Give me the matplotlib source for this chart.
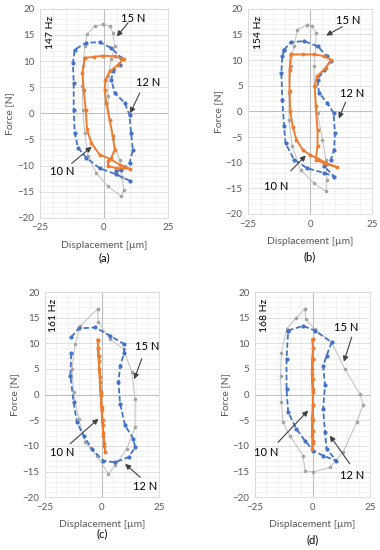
import matplotlib
matplotlib.use("Agg")
import matplotlib.pyplot as plt
from matplotlib.ticker import MultipleLocator

plt.rcParams['font.family'] = ['Lato', 'DejaVu Sans']

# ---- panel (a) 147 Hz ----
a10_x = [-7.5, -4.0, -0.4, 4.2, 7.7, 5.5, 2.2, 0.6, 0.3, 0.9, 2.2, 3.5, 4.2, 2.9, 1.6, 1.6, 4.8, 10.0,
         6.1, 2.2, -1.7, -4.9, -6.6, -7.1, -7.9, -8.4, -7.5]
a10_y = [10.6, 10.8, 11.0, 10.9, 10.4, 9.3, 8.0, 6.4, 4.5, 2.0, -1.2, -4.4, -7.0, -8.5, -9.2, -10.1, -10.5, -10.6,
         -9.8, -8.7, -7.9, -5.7, -3.1, 0.7, 4.5, 7.7, 10.6]
a12_x = [10.0, 4.8, -1.7, -6.9, -10.1, -11.4, -11.8, -11.8, -12.1, -11.4, -6.9, -1.7, 2.9, 6.8, 6.1, 3.5, 2.9,
         4.2, 8.1, 10.0, 10.6, 11.3, 10.0, 6.8, 4.8]
a12_y = [-12.9, -11.7, -10.5, -8.5, -6.6, -3.8, 0.7, 5.8, 9.6, 12.2, 13.5, 13.6, 12.5, 10.6, 9.3, 8.0, 6.4,
         3.9, 2.0, -0.3, -3.8, -7.0, -9.5, -10.8, -11.1]
a15_x = [-0.4, -3.6, -6.6, -7.5, -8.2, -8.4, -8.2, -7.5, -6.2, -3.0, 1.6, 6.8, 7.7, 7.1, 6.1, 3.5, 2.2, 1.6,
         1.6, 2.9, 4.2, 3.5, 2.2, -0.4]
a15_y = [17.0, 16.7, 15.1, 12.8, 9.0, 5.2, 0.7, -3.8, -8.2, -11.4, -14.0, -15.9, -14.6, -12.1, -8.9, -5.0, -1.2, 3.3,
         7.1, 10.3, 12.8, 15.4, 16.7, 17.0]

# ---- panel (b) 154 Hz ----
b10_x = [-7.8, -3.0, 1.6, 5.5, 8.4, 6.4, 2.7, 1.9, 2.3, 3.0, 3.0, 2.3, 5.7, 11.0, 7.0, 3.0, 0.0, -3.0, -5.5,
         -7.0, -8.0, -8.3, -8.3, -7.8]
b10_y = [11.1, 11.1, 11.1, 10.8, 10.1, 8.5, 6.8, 4.9, 1.0, -3.6, -6.8, -9.4, -10.1, -10.9, -10.2, -9.2, -8.5, -7.5,
         -5.5, -3.0, 0.0, 4.0, 8.0, 11.1]
b12_x = [-10.5, -7.8, -2.4, 3.0, 7.0, 8.4, 5.7, 3.0, 3.6, 7.0, 9.5, 10.0, 9.7, 8.4, 5.7, 9.7, 5.7, -1.1, -6.5,
         -9.9, -10.5, -11.2, -11.6, -11.2, -10.5]
b12_y = [12.0, 13.5, 13.7, 12.7, 10.7, 9.8, 8.1, 6.2, 3.6, 1.6, -0.3, -4.2, -7.5, -9.4, -10.7, -12.7, -12.0, -11.1,
         -9.4, -6.2, -2.9, 2.3, 7.5, 10.7, 12.0]
b15_x = [-1.1, -5.1, -6.5, -7.8, -8.5, -8.5, -7.2, -3.8, 1.6, 6.4, 6.8, 6.4, 5.0, 3.0, 1.6, 1.6, 2.3, 2.3, 0.9,
         -1.1]
b15_y = [16.9, 15.9, 12.7, 8.8, 3.6, -1.6, -6.8, -11.4, -14.0, -15.6, -13.3, -9.4, -5.5, -0.3, 4.9, 8.8, 12.7,
         15.3, 16.7, 16.9]

# ---- panel (c) 161 Hz ----
c10_x = [-1.8, -1.6, -1.4, -1.1, -0.8, -0.5, -0.1, 0.3, 0.7, 1.1, 1.5, 1.1, 0.7, 0.3, -0.1, -0.5, -0.9, -1.3,
         -1.7, -1.8]
c10_y = [10.7, 9.0, 7.5, 5.0, 2.5, 0.0, -2.5, -5.0, -7.5, -9.5, -11.1, -10.0, -8.0, -6.0, -3.0, 0.5, 3.5, 6.5,
         9.0, 10.7]
c12_x = [-13.4, -10.2, -2.9, 3.6, 9.5, 9.8, 8.0, 7.3, 8.0, 10.2, 13.8, 14.6, 11.7, 5.8, 0.7, -4.4, -8.0, -10.9,
         -12.4, -13.8, -13.4]
c12_y = [11.2, 12.9, 13.1, 11.5, 9.9, 8.1, 5.6, 2.4, -1.8, -6.0, -8.6, -10.3, -12.2, -13.2, -12.9, -10.6, -8.0,
         -5.4, -1.5, 3.7, 8.2]
c15_x = [-1.9, -9.5, -11.7, -13.1, -12.4, -10.2, -7.3, -2.2, 2.9, 5.8, 10.9, 14.6, 14.6, 13.1, 9.5, 3.6, -1.5,
         -1.9]
c15_y = [16.7, 13.4, 9.9, 5.0, 0.5, -4.7, -9.3, -11.9, -15.5, -13.8, -10.6, -6.4, -0.8, 4.4, 8.9, 10.8, 14.1,
         16.7]

# ---- panel (d) 168 Hz ----
d10_x = [0.0, 0.2, 0.0, -0.2, 0.0, 0.2, 0.1, -0.1, 0.0, 0.1, -0.1, 0.1, -0.2, 0.0, 0.2, 0.0, -0.2, 0.0, 0.2, 0.0]
d10_y = [10.8, 9.0, 7.0, 5.0, 3.0, 0.5, -2.0, -4.5, -7.0, -9.0, -10.6, -9.5, -8.0, -5.0, -2.0, 1.0, 4.0, 7.0,
         9.0, 10.8]
d12_x = [-10.6, -4.1, 1.0, 8.3, 6.1, 4.6, 5.4, 4.6, 5.4, 6.1, 10.4, 4.6, 0.3, -3.3, -7.0, -10.6, -11.3, -11.3,
         -10.6]
d12_y = [12.5, 13.4, 12.5, 10.2, 7.6, 5.6, 1.8, -2.8, -7.3, -10.6, -12.9, -11.9, -10.9, -9.0, -6.7, -3.4, 1.1,
         6.9, 12.5]
d15_x = [-3.3, -7.0, -11.3, -13.5, -13.9, -13.5, -12.8, -9.9, -4.1, -3.3, 0.3, 7.5, 13.3, 19.1, 22.0, 20.6,
         14.0, 8.3, 1.0, -3.0, -3.3]
d15_y = [16.7, 15.0, 12.8, 8.2, 3.7, -1.5, -5.4, -8.0, -11.9, -14.8, -15.1, -14.2, -11.2, -5.4, -2.0, 0.1,
         5.0, 10.2, 12.7, 14.8, 16.7]

freqs = ['147 Hz', '154 Hz', '161 Hz', '168 Hz']
captions = ['(a)', '(b)', '(c)', '(d)']

# label text positions, arrow tails and heads (data coords) per panel
lbl15 = [(11.3, 18.2, 9.4, 17.3, 5.0, 14.7), (15.5, 17.8, 13.0, 16.5, 6.5, 14.8),
         (19.7, 9.4, 17.5, 7.0, 14.2, 3.0), (14.8, 13.1, 17.0, 11.2, 13.6, 6.4)]
lbl12 = [(17.2, 5.8, 14.0, 3.9, 10.2, 0.0), (17.0, 3.5, 14.3, 1.8, 11.6, -1.4),
         (19.0, -18.0, 16.8, -16.1, 10.2, -13.5), (17.0, -15.8, 16.2, -13.5, 7.5, -8.0)]
lbl10 = [(-16.4, -11.2, -12.6, -9.6, -4.8, -6.4), (-13.8, -14.7, -7.8, -11.6, -1.7, -8.6),
         (-17.5, -11.3, -13.9, -9.6, -1.5, -4.7), (-20.0, -11.3, -15.0, -9.3, -1.9, -3.1)]

series = [
    ((a15_x, a15_y), (a12_x, a12_y), (a10_x, a10_y)),
    ((b15_x, b15_y), (b12_x, b12_y), (b10_x, b10_y)),
    ((c15_x, c15_y), (c12_x, c12_y), (c10_x, c10_y)),
    ((d15_x, d15_y), (d12_x, d12_y), (d10_x, d10_y)),
]

positions = [[0.105, 0.604, 0.337, 0.38], [0.653, 0.611, 0.326, 0.373],
             [0.118, 0.096, 0.300, 0.373], [0.671, 0.096, 0.303, 0.373]]
cap_y = [-0.19, -0.21, -0.176, -0.21]

fig = plt.figure(figsize=(3.8, 5.5), dpi=100)

for i in range(4):
    ax = fig.add_axes(positions[i])
    s15, s12, s10 = series[i]
    ax.plot(s15[0], s15[1], color='#BFBFBF', lw=0.7, marker='o', ms=1.6, mfc='#A5A5A5', mec='#A5A5A5', zorder=3)
    ax.plot(s12[0], s12[1], color='#4472C4', lw=1.3, ls=(0, (3, 1.5)), marker='o', ms=2.0, zorder=4)
    ax.plot(s10[0], s10[1], color='#ED7D31', lw=1.4, marker='o', ms=1.8, zorder=5)

    ax.set_xlim(-25, 25)
    ax.set_ylim(-20, 20)
    ax.xaxis.set_major_locator(MultipleLocator(25))
    ax.xaxis.set_minor_locator(MultipleLocator(5))
    ax.yaxis.set_major_locator(MultipleLocator(5))
    ax.yaxis.set_minor_locator(MultipleLocator(1))
    ax.grid(which='major', color='#D9D9D9', lw=0.6)
    ax.grid(which='minor', color='#EDEDED', lw=0.5)
    ax.set_axisbelow(True)
    ax.axhline(0, color='#BFBFBF', lw=0.8, zorder=1)
    ax.axvline(0, color='#BFBFBF', lw=0.8, zorder=1)
    ax.tick_params(which='both', length=0, labelsize=7, colors='#595959', pad=4)
    for sp in ax.spines.values():
        sp.set_color('#D9D9D9')
        sp.set_linewidth(0.6)
    ax.set_xlabel('Displacement [µm]', fontsize=7.5, color='#595959', labelpad=6)
    ax.set_ylabel('Force [N]', fontsize=7.5, color='#595959', labelpad=2)

    ax.text(-21, 15.4, freqs[i], rotation=90, fontsize=7.5, ha='center', va='center', color='black')

    for lab, txt in ((lbl15[i], '15 N'), (lbl12[i], '12 N'), (lbl10[i], '10 N')):
        tx, ty, ax0, ay0, hx, hy = lab
        ax.text(tx, ty, txt, fontsize=8, ha='center', va='center', color='black', zorder=6)
        ax.annotate('', xy=(hx, hy), xytext=(ax0, ay0),
                    arrowprops=dict(arrowstyle='-|>', color='#404040', lw=0.8,
                                    mutation_scale=8, shrinkA=0, shrinkB=0), zorder=6)

    ax.text(0.5, cap_y[i], captions[i], transform=ax.transAxes, fontsize=8, ha='center', va='center',
            color='black')

fig.savefig('out.png', dpi=100)
